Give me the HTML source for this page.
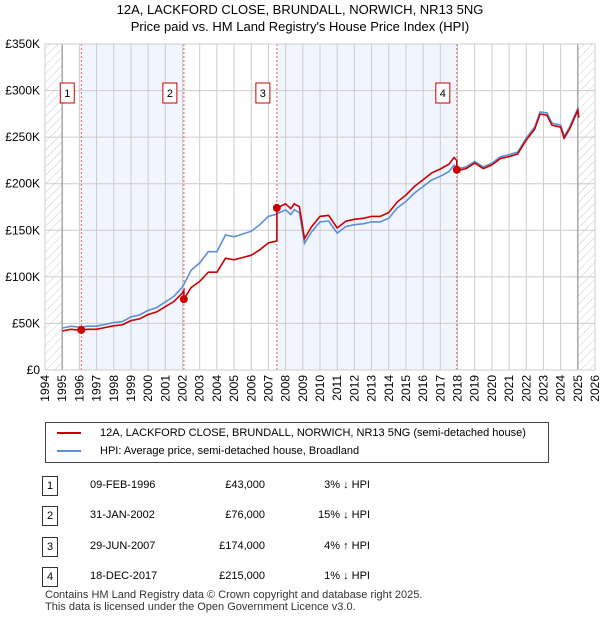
<!DOCTYPE html>
<html><head><meta charset="utf-8"><style>
body{margin:0;background:#fff;font-family:"Liberation Sans","DejaVu Sans",sans-serif;}
#wrap{position:relative;width:600px;height:620px;overflow:hidden}
.t{position:absolute;font-size:12px;color:#000;white-space:nowrap}
</style></head><body><div id="wrap">
<svg id="chart" width="600" height="620" style="position:absolute;left:0;top:0">
<defs><pattern id="hatch" width="6" height="6" patternUnits="userSpaceOnUse" patternTransform="rotate(45)"><line x1="0" y1="0" x2="0" y2="6" stroke="#ccc" stroke-width="1"/></pattern></defs>
<text x="300" y="14" text-anchor="middle" font-size="13">12A, LACKFORD CLOSE, BRUNDALL, NORWICH, NR13 5NG</text>
<text x="300" y="31" text-anchor="middle" font-size="13">Price paid vs. HM Land Registry's House Price Index (HPI)</text>
<g id="plot"></g>
</svg>
<div style="position:absolute;left:45px;top:422px;width:502px;height:39px;border:1px solid #444;">
 <div style="position:absolute;left:11px;top:4px;font-size:11px"><span style="display:inline-block;width:24px;height:2px;background:#cc0000;vertical-align:middle;margin-right:19px"></span>12A, LACKFORD CLOSE, BRUNDALL, NORWICH, NR13 5NG (semi-detached house)</div>
 <div style="position:absolute;left:11px;top:22px;font-size:11px"><span style="display:inline-block;width:24px;height:2px;background:#5b8fd6;vertical-align:middle;margin-right:19px"></span>HPI: Average price, semi-detached house, Broadland</div>
</div>
<div id="table"></div>
<div class="t" style="left:45px;top:589px;font-size:11px;color:#333">Contains HM Land Registry data © Crown copyright and database right 2025.</div>
<div class="t" style="left:45px;top:601px;font-size:11px;color:#333">This data is licensed under the Open Government Licence v3.0.</div>
</div>
<script>
const yearTicks=[1994,1995,1996,1997,1998,1999,2000,2001,2002,2003,2004,2005,2006,2007,2008,2009,2010,2011,2012,2013,2014,2015,2016,2017,2018,2019,2020,2021,2022,2023,2024,2025,2026];
const valueTicks=[0,50,100,150,200,250,300,350];
const valueLabels=["£0","£50K","£100K","£150K","£200K","£250K","£300K","£350K"];
const hpiYears=[1995,1995.5,1996,1996.5,1997,1997.5,1998,1998.5,1999,1999.5,2000,2000.5,2001,2001.5,2002,2002.5,2003,2003.5,2004,2004.5,2005,2005.5,2006,2006.5,2007,2007.4,2008,2008.3,2008.5,2008.8,2009.1,2009.5,2010,2010.5,2011,2011.5,2012,2012.5,2013,2013.5,2014,2014.5,2015,2015.5,2016,2016.5,2017,2017.5,2017.8,2018,2018.5,2019,2019.5,2020,2020.5,2021,2021.5,2022,2022.5,2022.8,2023.2,2023.5,2024,2024.2,2024.5,2025,2025.05];
const hpiValues=[45,47,46,47,47,49,51,52,57,59,64,67,73,79,89,107,115,127,127,145,143,146,149,156,165,167,172,167,172,169,136,148,159,160,147,154,156,157,159,159,163,174,181,190,197,204,208,213,220,216,218,224,218,222,229,231,234,249,261,277,276,265,263,251,260,281,273];
const saleYears=[1996.11,2002.08,2007.49,2017.96];
const salePrices=[43,76,174,215];
const saleLabels=["1","2","3","4"];
const saleDates=["09-FEB-1996","31-JAN-2002","29-JUN-2007","18-DEC-2017"];
const salePriceText=["£43,000","£76,000","£174,000","£215,000"];
const saleHpiText=["3% ↓ HPI","15% ↓ HPI","4% ↑ HPI","1% ↓ HPI"];

const X0=45,X1=595,Y0=370,Y1=44;
const xs=y=>X0+(y-1994)/(2026-1994)*(X1-X0);
const ys=v=>Y0-v/350*(Y0-Y1);
const NS="http://www.w3.org/2000/svg";
const g=document.getElementById('plot');
function mk(tag,attrs,parent){const e=document.createElementNS(NS,tag);for(const k in attrs)e.setAttribute(k,attrs[k]);(parent||g).appendChild(e);return e;}
function hpiAt(t){for(let i=0;i<hpiYears.length-1;i++){if(t<=hpiYears[i+1]){const f=(t-hpiYears[i])/(hpiYears[i+1]-hpiYears[i]);return hpiValues[i]+f*(hpiValues[i+1]-hpiValues[i]);}}return hpiValues[hpiValues.length-1];}

let e;
e=mk('rect',{x:X0,y:Y1,width:X1-X0,height:Y0-Y1,fill:'#fff'});


for(let k=0;k<2;k++){const a=saleYears[k*2],b=saleYears[k*2+1];
 e=mk('rect',{x:xs(a),y:Y1,width:xs(b)-xs(a),height:Y0-Y1,fill:'#eef3fc',opacity:0.8});
 
 }
e=mk('rect',{x:X0,y:Y1,width:xs(1995)-X0,height:Y0-Y1,fill:'url(#hatch)'});


e=mk('rect',{x:xs(2025),y:Y1,width:X1-xs(2025),height:Y0-Y1,fill:'url(#hatch)'});


yearTicks.forEach(yr=>{
 e=mk('line',{x1:xs(yr),x2:xs(yr),y1:Y1,y2:Y0,stroke:'#ccc','stroke-width':1});
 
 
 e=mk('text',{x:xs(yr)+4,y:Y0+5,'font-size':12,transform:`rotate(-90 ${xs(yr)+4} ${Y0+5})`,'text-anchor':'end'});
 e.textContent=yr;
 
 
});
valueTicks.forEach((v,i)=>{
 e=mk('line',{x1:X0,x2:X1,y1:ys(v),y2:ys(v),stroke:'#ccc','stroke-width':1});
 
 
 e=mk('text',{x:X0-5,y:ys(v)+4,'font-size':12,'text-anchor':'end'});
 e.textContent=valueLabels[i];
 
 
});
e=mk('line',{x1:xs(1995),x2:xs(1995),y1:Y1,y2:Y0,stroke:'#888','stroke-width':1});


e=mk('line',{x1:xs(2025),x2:xs(2025),y1:Y1,y2:Y0,stroke:'#888','stroke-width':1});


saleYears.forEach((s,i)=>{
 e=mk('line',{x1:xs(s),x2:xs(s),y1:Y1,y2:Y0,stroke:'#e06060','stroke-width':1,'stroke-dasharray':'2,2'});
 
 
 e=mk('rect',{x:xs(s)-21,y:83,width:14,height:20,fill:'#fff',stroke:'#cc0000','stroke-width':1});
 
 
 e=mk('text',{x:xs(s)-14,y:97,'font-size':11,'text-anchor':'middle'});
 e.textContent=saleLabels[i];
 
 
});
let d=hpiYears.map((t,i)=>(i?'L':'M')+xs(t).toFixed(1)+','+ys(hpiValues[i]).toFixed(1)).join('');
e=mk('path',{d:d,fill:'none',stroke:'#5b8fd6','stroke-width':1.6});


function ratioAt(t){let k=0;for(let i=0;i<saleYears.length;i++)if(t>=saleYears[i])k=i;return salePrices[k]/hpiAt(saleYears[k]);}
let pts=[];hpiYears.forEach((t,i)=>{
 saleYears.forEach((s,k)=>{if(i>0&&hpiYears[i-1]<s&&t>=s){const h=hpiAt(s);pts.push([s,h*ratioAt(s-0.001)]);pts.push([s,salePrices[k]]);}});
 pts.push([t,hpiValues[i]*ratioAt(t)]);});
d=pts.map((p,i)=>(i?'L':'M')+xs(p[0]).toFixed(1)+','+ys(p[1]).toFixed(1)).join('');
e=mk('path',{d:d,fill:'none',stroke:'#cc0000','stroke-width':1.6});


saleYears.forEach((s,i)=>{
 e=mk('circle',{cx:xs(s),cy:ys(salePrices[i]),r:4,fill:'#cc0000'});
 
 
});
e=mk('rect',{x:X0,y:Y1,width:X1-X0,height:Y0-Y1,fill:'none',stroke:'#ccc'});



const tb=document.getElementById('table');
const rowY=[476,506,537,567];
saleLabels.forEach((l,i)=>{
 const r=document.createElement('div');
 
 
 r.style.cssText=`position:absolute;left:0;top:${rowY[i]}px;width:600px;height:20px;font-size:11px`;
 r.innerHTML=`<span style="position:absolute;left:42px;top:0;width:14px;height:18px;border:1px solid #333;text-align:center;line-height:18px">${l}</span><span style="position:absolute;left:90px;top:3px">${saleDates[i]}</span><span style="position:absolute;right:335px;top:3px">${salePriceText[i]}</span><span style="position:absolute;right:230px;top:3px">${saleHpiText[i]}</span>`;
 tb.appendChild(r);
});
</script></body></html>
